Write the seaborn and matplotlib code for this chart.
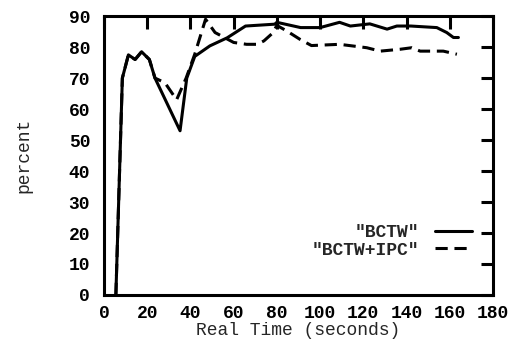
import pandas as pd
import seaborn as sns
import matplotlib.pyplot as plt

# values
bctw_time = [5.5, 8.5, 11.3, 14.4, 17.4, 21, 23.6, 35.2, 38.3, 42, 49, 57, 65.5, 79, 80,
             91, 100, 109, 114, 123, 131, 135.5, 142, 154, 158.6, 161.7, 164]
bctw_pct = [0, 70, 77.5, 76, 78.5, 76, 70, 53, 70, 77, 80.4, 83, 86.8, 87.4, 88,
            86.3, 86.3, 88, 86.8, 87.5, 85.8, 86.8, 86.8, 86.3, 84.7, 83.1, 83.1]

ipc_time = [5.5, 8.5, 11.3, 14.4, 17.4, 21, 23.6, 28.2, 33.6, 38, 42, 47, 51.4, 60, 66,
            71, 74, 78, 80, 84.6, 90.7, 96, 109, 121.6, 127.8, 137, 142.4, 146.3, 157, 163.3]
ipc_pct = [0, 70, 77.5, 76, 78.5, 76, 70, 68.5, 63, 70, 77.7, 89, 84.7, 81.5, 80.9,
           80.9, 82, 84.5, 87, 85.2, 82.5, 80.5, 80.9, 79.8, 78.7, 79.3, 79.8, 78.7, 78.7, 77.7]

x_ticks = list(range(0, 181, 20))
y_ticks = list(range(0, 91, 10))

df_bctw = pd.DataFrame({'time': bctw_time, 'pct': bctw_pct})
df_ipc = pd.DataFrame({'time': ipc_time, 'pct': ipc_pct})

sns.set_style('white')
plt.rcParams['font.family'] = ['Liberation Mono', 'DejaVu Sans Mono']
plt.rcParams['font.weight'] = 'bold'

fig = plt.figure(figsize=(5.13, 3.43), dpi=100)
ax = fig.add_axes([0.2027, 0.14, 0.7583, 0.813])

sns.lineplot(data=df_bctw, x='time', y='pct', ax=ax, color='black', linewidth=2.2,
             label='"BCTW"')
sns.lineplot(data=df_ipc, x='time', y='pct', ax=ax, color='black', linewidth=2.2,
             linestyle=(0, (4, 2.2)), label='"BCTW+IPC"')

ax.set_xlim(0, 180)
ax.set_ylim(0, 90)
ax.set_xticks(x_ticks)
ax.set_yticks(y_ticks)
ax.tick_params(direction='in', length=9, width=2.2, top=True, right=True,
               labelsize=13, colors='black')
ax.tick_params(axis='y', pad=10)
ax.tick_params(axis='x', pad=7)
for s in ax.spines.values():
    s.set_linewidth(2.2)
    s.set_color('black')

ax.set_xlabel('Real Time (seconds)', fontsize=13, labelpad=0)
ax.set_ylabel('percent', fontsize=13, labelpad=26)

ax.legend(loc='lower right', bbox_to_anchor=(0.945, 0.13), frameon=False,
          markerfirst=False, handlelength=2.0, handletextpad=0.9,
          labelspacing=0.05, borderaxespad=0, borderpad=0, fontsize=13)

plt.savefig('out.png', dpi=100)
